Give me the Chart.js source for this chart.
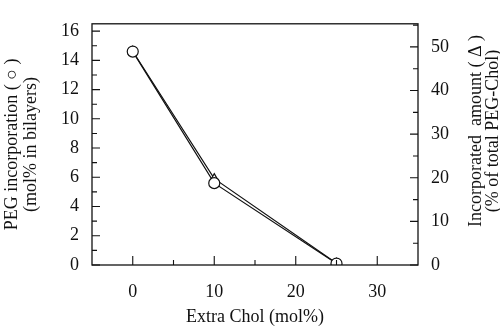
<!DOCTYPE html>
<html>
<head>
<meta charset="utf-8">
<script src="https://cdn.jsdelivr.net/npm/chart.js@4"></script>
<style>
    html, body { margin: 0; padding: 0; background: #fff; }
    #wrap { width: 500px; height: 328px; }
</style>
</head>
<body>
<div id="wrap"><canvas id="chart" width="500" height="328"></canvas></div>
<script>

// Data
// ------------------------------

var extraChol = [0, 10, 25];
var pegIncorporation = [14.6, 5.6, 0.1];      // left axis, circles
var incorporatedAmount = [49.0, 19.8, 0.4];   // right axis, triangles

var xTicks = [0, 10, 20, 30];
var yLeftTicks = [0, 2, 4, 6, 8, 10, 12, 14, 16];
var yRightTicks = [0, 10, 20, 30, 40, 50];

var FONT = '"Liberation Serif", "Times New Roman", serif';


// Inward ticks + frame
// ------------------------------

var framePlugin = {
    id: 'frame',
    afterDraw: function (chart) {
        var ctx = chart.ctx;
        var a = chart.chartArea;
        var sx = chart.scales.x, sl = chart.scales.y, sr = chart.scales.y1;
        var v, p;

        ctx.save();
        ctx.strokeStyle = '#111';
        ctx.lineWidth = 1.3;
        ctx.strokeRect(a.left, a.top, a.right - a.left, a.bottom - a.top);

        ctx.lineWidth = 1.1;
        ctx.beginPath();
        // bottom ticks
        for (v = 0; v <= 30; v += 5) {
            p = sx.getPixelForValue(v);
            ctx.moveTo(p, a.bottom);
            ctx.lineTo(p, a.bottom - (v % 10 === 0 ? 9 : 5));
        }
        // left ticks
        for (v = 0; v <= 16; v += 1) {
            p = sl.getPixelForValue(v);
            ctx.moveTo(a.left, p);
            ctx.lineTo(a.left + (v % 2 === 0 ? 8 : 5), p);
        }
        // right ticks
        for (v = 0; v <= 55; v += 5) {
            p = sr.getPixelForValue(v);
            ctx.moveTo(a.right, p);
            ctx.lineTo(a.right - (v % 10 === 0 ? 8 : 5), p);
        }
        ctx.stroke();

        // right title, reading bottom to top
        ctx.fillStyle = '#111';
        ctx.font = '18px ' + FONT;
        ctx.textAlign = 'center';
        ctx.textBaseline = 'middle';
        ctx.translate(476, 131);
        ctx.rotate(-Math.PI / 2);
        ctx.fillText('Incorporated  amount ( \u0394 )', 0, 0);
        ctx.fillText('(% of total PEG-Chol)', 0, 17);
        ctx.restore();
    }
};


// Chart setup
// ------------------------------

function fixedTicks(list) {
    return function (scale) {
        scale.ticks = list.map(function (v) { return { value: v }; });
    };
}

var chart = new Chart(document.getElementById('chart'), {
    type: 'line',
    data: {
        datasets: [
            {
                label: 'PEG incorporation',
                data: extraChol.map(function (x, i) { return { x: x, y: pegIncorporation[i] }; }),
                yAxisID: 'y',
                borderColor: '#111',
                borderWidth: 1.2,
                pointStyle: 'circle',
                pointRadius: 5.5,
                pointBackgroundColor: '#fff',
                pointBorderColor: '#111',
                pointBorderWidth: 1.2,
                tension: 0
            },
            {
                label: 'Incorporated amount',
                data: extraChol.map(function (x, i) { return { x: x, y: incorporatedAmount[i] }; }),
                yAxisID: 'y1',
                borderColor: '#111',
                borderWidth: 1.2,
                pointStyle: 'triangle',
                pointRadius: 5,
                pointBackgroundColor: '#fff',
                pointBorderColor: '#111',
                pointBorderWidth: 1.2,
                tension: 0
            }
        ]
    },
    options: {
        responsive: false,
        animation: false,
        layout: { padding: { top: 14, left: 0, right: 0, bottom: 0 } },
        plugins: {
            legend: { display: false },
            tooltip: { enabled: false }
        },
        scales: {
            x: {
                type: 'linear',
                min: -5,
                max: 35,
                afterBuildTicks: fixedTicks(xTicks),
                afterFit: function (s) { s.height = 63; },
                grid: { display: false, drawTicks: false },
                border: { display: false },
                ticks: {
                    color: '#111',
                    padding: 16,
                    font: { family: FONT, size: 18 }
                },
                title: {
                    display: true,
                    text: 'Extra Chol (mol%)',
                    color: '#111',
                    padding: { top: 6, bottom: 0 },
                    font: { family: FONT, size: 18 }
                }
            },
            y: {
                position: 'left',
                min: 0,
                max: 16.5,
                afterBuildTicks: fixedTicks(yLeftTicks),
                afterFit: function (s) { s.width = 92; },
                grid: { display: false, drawTicks: false },
                border: { display: false },
                ticks: {
                    color: '#111',
                    padding: 13,
                    font: { family: FONT, size: 18 }
                },
                title: {
                    display: true,
                    text: ['PEG incorporation ( \u25CB )', '(mol% in bilayers)'],
                    color: '#111',
                    padding: { top: 3, bottom: 0 },
                    font: { family: FONT, size: 18, lineHeight: 1.05 }
                }
            },
            y1: {
                position: 'right',
                min: 0,
                max: 55.3,
                afterBuildTicks: fixedTicks(yRightTicks),
                afterFit: function (s) { s.width = 82; },
                grid: { display: false, drawTicks: false },
                border: { display: false },
                ticks: {
                    color: '#111',
                    padding: 13,
                    font: { family: FONT, size: 18 }
                }
            }
        }
    },
    plugins: [framePlugin]
});
</script>
</body>
</html>
